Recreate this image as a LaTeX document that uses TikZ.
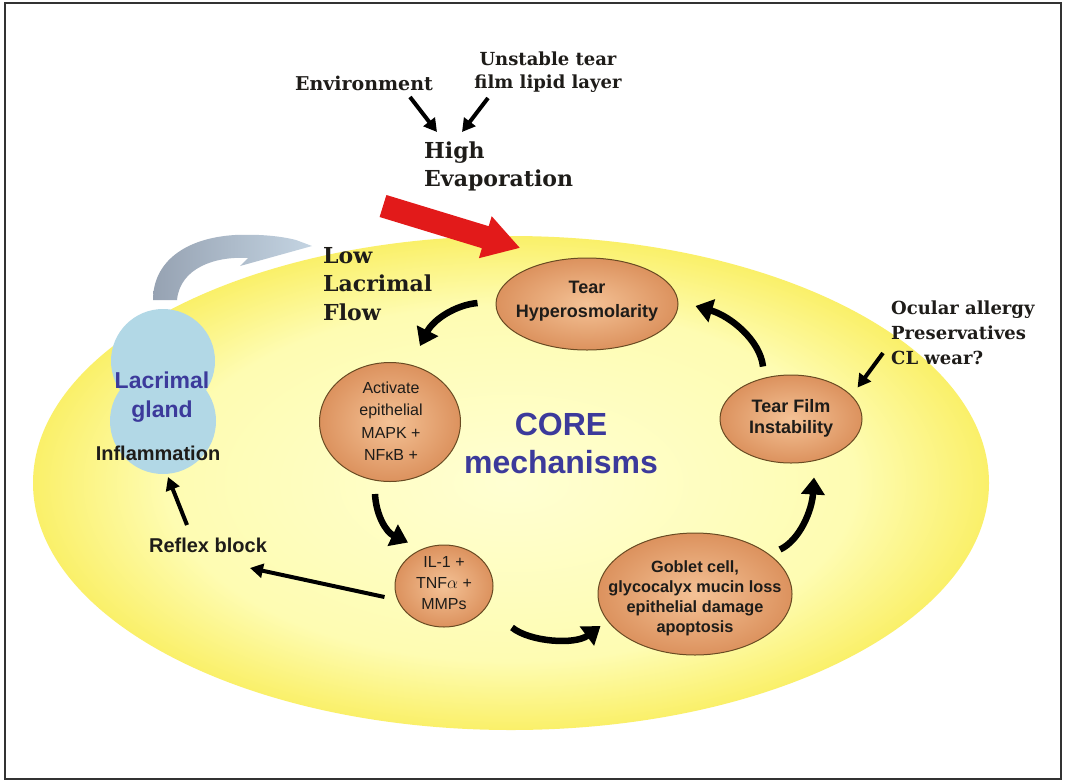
\documentclass[tikz,border=0pt]{standalone}
\usepackage{fontspec}
\setmainfont{DejaVu Serif}
\setsansfont{Liberation Sans}
\usetikzlibrary{shapes.geometric,arrows.meta,calc}
\definecolor{yin}{RGB}{255,255,210}
\definecolor{ymid}{RGB}{254,252,178}
\definecolor{yout}{RGB}{250,240,105}
\definecolor{glandblue}{RGB}{178,216,230}
\definecolor{orin}{RGB}{244,194,150}
\definecolor{orout}{RGB}{220,146,94}
\definecolor{orline}{RGB}{105,75,35}
\definecolor{bluetxt}{RGB}{60,58,155}
\definecolor{redarr}{RGB}{226,26,26}
\definecolor{gA}{RGB}{150,162,178}
\definecolor{gB}{RGB}{98,103,114}
\definecolor{gC}{RGB}{196,212,226}
\definecolor{txt}{RGB}{30,28,25}
\pgfdeclareradialshading{yshade}{\pgfpoint{0bp}{0bp}}{color(0bp)=(yin); color(18bp)=(ymid); color(25bp)=(yout); color(50bp)=(yout)}
\tikzset{
  mech/.style={ellipse, draw=orline, line width=1pt, shade, shading=radial,
    inner color=orin, outer color=orout, inner sep=0pt},
  mtext/.style={align=center, text=txt, inner sep=0pt, font=\sffamily\bfseries\fontsize{18}{23}\selectfont},
  serif/.style={text=txt, inner sep=0pt, font=\bfseries\fontsize{18}{23}\selectfont},
  bigarr/.style={line width=6.5pt, draw=black, -{Triangle[width=23pt,length=17pt]}},
  smallarr/.style={line width=4pt, draw=black, -{Triangle[width=14pt,length=13pt]}}
}
\begin{document}
\begin{tikzpicture}[x=1pt,y=-1pt]
\useasboundingbox (0,0) rectangle (1065,782);
\fill[white] (0,0) rectangle (1065,782);
\draw[line width=1.3pt, black!80] (5,3) rectangle (1061,779);

% big yellow ellipse
\shade[shading=yshade] (511,483) ellipse [x radius=478, y radius=247];

% gray curved arrow
\shade[left color=gA, middle color=gB, right color=gC]
  (153,300) .. controls (153,262) and (185,238) .. (235,235)
  .. controls (260,234) and (280,236) .. (296,240) -- (312,246) -- (240,266) -- (248,258)
  .. controls (215,256) and (180,268) .. (177,300) -- cycle;

% red arrow
\fill[redarr] (386.4,195.0) -- (488.7,226.2) -- (491.7,216.2) -- (519.7,247.8)
  -- (478.9,258.2) -- (481.9,248.2) -- (379.6,217.0) -- cycle;

% lacrimal gland
\fill[glandblue] (163,361) circle (52);
\fill[glandblue] (163,421) circle (53);
\node[align=center, inner sep=0pt, text=bluetxt, font=\sffamily\bfseries\fontsize{23}{29}\selectfont] (gland) at (162,397) {Lacrimal\\gland};
\node[inner sep=0pt, text=txt, font=\sffamily\bfseries\fontsize{20}{24}\selectfont] (inflam) at (158,453) {Inflammation};
\node[inner sep=0pt, text=txt, font=\sffamily\bfseries\fontsize{20}{24}\selectfont] (reflex) at (208,545) {Reflex block};

% top texts
\node[serif, font=\bfseries\fontsize{19}{23}\selectfont] (env) at (364,83) {Environment};
\node[serif, align=center] (unst) at (548,72) {Unstable tear\\film lipid layer};
\node[serif, align=left, anchor=west, font=\bfseries\fontsize{22}{28}\selectfont] (high) at (424,166) {High\\Evaporation};
\node[serif, align=left, anchor=west, font=\bfseries\fontsize{22}{28.5}\selectfont] (low) at (323,284) {Low\\Lacrimal\\Flow};
\node[serif, align=left, anchor=west, font=\bfseries\fontsize{18}{25}\selectfont] (ocular) at (891,333) {Ocular allergy\\Preservatives\\CL wear?};

% mechanism ellipses
\node[mech, minimum width=182pt, minimum height=92pt] (hyper) at (587,304) {};
\node[mtext, font=\sffamily\bfseries\fontsize{18}{24}\selectfont] (hypert) at (587,301) {Tear\\Hyperosmolarity};
\node[mech, minimum width=141pt, minimum height=119pt] (act) at (390,422) {};
\node[mtext, font=\sffamily\fontsize{16}{22.5}\selectfont] (actt) at (391,421) {Activate\\epithelial\\MAPK +\\NFκB +};
\node[mech, minimum width=98pt, minimum height=82pt] (il) at (444,586) {};
\node[mtext, font=\sffamily\fontsize{16}{21}\selectfont] (ilt) at (444,583) {IL-1 +\\TNF$\alpha$ +\\MMPs};
\node[mech, minimum width=194pt, minimum height=122pt] (gob) at (695,594) {};
\node[mtext, font=\sffamily\bfseries\fontsize{16.3}{20}\selectfont] (gobt) at (695,598) {Goblet cell,\\glycocalyx mucin loss\\epithelial damage\\apoptosis};
\node[mech, minimum width=142pt, minimum height=88pt] (tfi) at (791,419) {};
\node[mtext, font=\sffamily\bfseries\fontsize{18}{21}\selectfont] (tfit) at (791,418) {Tear Film\\Instability};

\node[align=center, inner sep=0pt, text=bluetxt, font=\sffamily\bfseries\fontsize{32}{38}\selectfont] (core) at (561,443) {CORE\\mechanisms};

% arrows
\draw[smallarr] ($(env)+(46,14)$) -- ($(high.west)+(13,-34)$);
\draw[smallarr] ($(unst)+(-60,26)$) -- ($(high.west)+(38,-34)$);
\draw[smallarr] ($(ocular.west)+(-8,20)$) -- ($(tfi.north east)+(16,0)$);
\draw[smallarr] ($(il.west)+(-10,11)$) -- ($(reflex)+(42,23)$);
\draw[smallarr] ($(reflex)+(-21,-20)$) -- ($(inflam)+(10,24)$);

\draw[bigarr] ($(hyper.west)+(-18,-1)$) .. controls (455,305) and (433,320) .. ($(act.north)+(30,-16)$);
\draw[bigarr] ($(act.south)+(-15,12)$) .. controls (376,515) and (386,532) .. ($(il.north)+(-36,-2)$);
\draw[bigarr] ($(il.south)+(68,0)$) .. controls (530,642) and (575,645) .. ($(gob.west)+(3,32)$);
\draw[bigarr] ($(gob.north)+(85,17)$) .. controls (800,540) and (812,510) .. ($(tfi.south)+(23,14)$);
\draw[bigarr] ($(tfi.north)+(-28,-8)$) .. controls (760,340) and (730,316) .. ($(hyper.east)+(17,2)$);
\end{tikzpicture}
\end{document}
